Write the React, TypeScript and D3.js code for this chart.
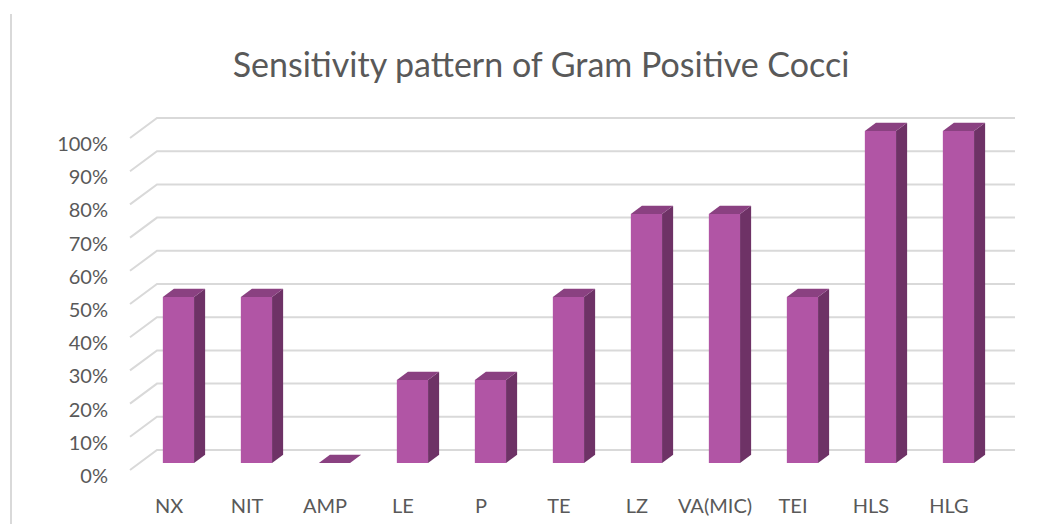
import React, { useEffect, useRef } from 'react'
import * as d3 from 'd3'

const categories = ['NX', 'NIT', 'AMP', 'LE', 'P', 'TE', 'LZ', 'VA(MIC)', 'TEI', 'HLS', 'HLG']
const values = [0.5, 0.5, 0, 0.25, 0.25, 0.5, 0.75, 0.75, 0.5, 1, 1]
const ticks = [0, 0.1, 0.2, 0.3, 0.4, 0.5, 0.6, 0.7, 0.8, 0.9, 1]
const title = 'Sensitivity pattern of Gram Positive Cocci'

const W = 1059
const H = 524
// floor / wall geometry (oblique 3d)
const depthX = 27
const depthY = -20
const frontLeft = 130
const frontRight = 988
const frontZero = 470
const plotH = 332
const barD0 = 0.35 // front face of bars, share of depth
const barD1 = 0.76

const font = 'Lato, "Open Sans", sans-serif'
const textColor = '#595959'

export default function App() {
  const ref = useRef<SVGSVGElement>(null)

  useEffect(() => {
    const svg = d3.select(ref.current)
    svg.selectAll('*').remove()

    const x = d3.scaleBand<string>().domain(categories).range([frontLeft, frontRight])
      .paddingInner(0.6).paddingOuter(0.3)
    const y = d3.scaleLinear().domain([0, 1]).range([frontZero, frontZero - plotH])
    const pt = (px: number, v: number, d: number) => [px + depthX * d, y(v) + depthY * d]
    const poly = (pts: number[][]) => 'M' + pts.map(p => p.join(',')).join('L') + 'Z'

    // chart border on the left
    svg.append('line').attr('x1', 11).attr('x2', 11).attr('y1', 14).attr('y2', H)
      .attr('stroke', '#d9d9d9').attr('stroke-width', 2)

    svg.append('text').text(title)
      .attr('x', 541).attr('y', 77).attr('text-anchor', 'middle')
      .attr('font-family', font).attr('font-size', 34).attr('fill', textColor)

    // gridlines : back wall + left side wall
    const g = svg.append('g').attr('stroke', '#d9d9d9').attr('stroke-width', 2).attr('fill', 'none')
    ticks.forEach(t => {
      const a = pt(frontLeft, t, 0), b = pt(frontLeft, t, 1), c = pt(frontRight, t, 1)
      g.append('path').attr('d', 'M' + a.join(',') + 'L' + b.join(',') + 'L' + c.join(','))
    })

    svg.append('g').selectAll('text').data(ticks).join('text')
      .attr('x', 108).attr('y', d => y(d) + 13).attr('text-anchor', 'end')
      .attr('font-family', font).attr('font-size', 20).attr('fill', textColor)
      .text(d => d3.format('.0%')(d))

    const bars = svg.append('g')
    categories.forEach((c, i) => {
      const v = values[i]
      const x0 = x(c)!, x1 = x0 + x.bandwidth()
      // side face
      bars.append('path').attr('fill', '#6e3266')
        .attr('d', poly([pt(x1, 0, barD0), pt(x1, 0, barD1), pt(x1, v, barD1), pt(x1, v, barD0)]))
      // front face
      if (v > 0) {
        bars.append('path').attr('fill', '#b155a5')
          .attr('d', poly([pt(x0, 0, barD0), pt(x1, 0, barD0), pt(x1, v, barD0), pt(x0, v, barD0)]))
      }
      // top face
      bars.append('path').attr('fill', '#8a4181')
        .attr('d', poly([pt(x0, v, barD0), pt(x1, v, barD0), pt(x1, v, barD1), pt(x0, v, barD1)]))
    })

    svg.append('g').selectAll('text').data(categories).join('text')
      .attr('x', d => x(d)! + x.bandwidth() / 2).attr('y', 513).attr('text-anchor', 'middle')
      .attr('font-family', font).attr('font-size', 20).attr('fill', textColor)
      .text(d => d)
  }, [])

  return (
    <svg ref={ref} width={W} height={H}
      style={{ position: 'absolute', left: 0, top: 0, background: '#fff' }} />
  )
}
